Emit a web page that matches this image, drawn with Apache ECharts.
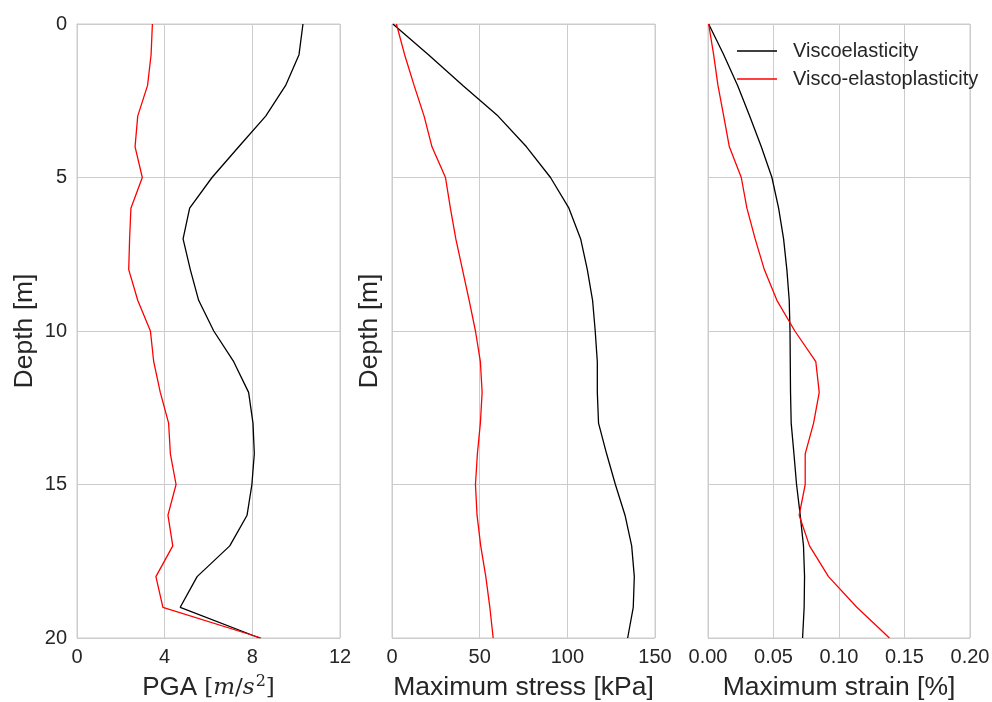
<!DOCTYPE html>
<html><head><meta charset="utf-8">
<script src="https://cdn.jsdelivr.net/npm/echarts@6/dist/echarts.min.js"></script>
<style>html,body{margin:0;padding:0;background:#fff}#c{width:992px;height:702px}</style>
</head><body><div id="c"></div>
<script>
const depths = [0,1,2,3,4,5,6,7,8,9,10,11,12,13,14,15,16,17,18,19,20];
const pgaVisco = [10.31,10.13,9.52,8.61,7.38,6.16,5.14,4.84,5.17,5.55,6.24,7.15,7.83,8.03,8.09,7.98,7.76,6.97,5.48,4.71,8.33];
const pgaPlast = [3.44,3.38,3.22,2.77,2.65,2.98,2.46,2.40,2.36,2.77,3.35,3.50,3.80,4.18,4.26,4.52,4.15,4.37,3.60,3.92,8.40];
const stressVisco = [0.5,20.8,40.4,60.5,76.7,90.4,100.9,107.6,111.4,114.4,115.9,117.1,117.1,117.8,122.4,127.4,132.9,136.7,138.2,137.6,134.4];
const stressPlast = [2.5,7.2,12.6,18.3,22.8,30.5,33.3,36.4,40.2,44.0,47.6,50.4,51.4,50.4,48.7,47.6,48.5,50.6,53.5,55.8,57.7];
const strainVisco = [0.0005,0.012,0.0226,0.0318,0.0407,0.0488,0.0539,0.0577,0.0602,0.062,0.0626,0.0628,0.063,0.0635,0.0656,0.0676,0.0704,0.0729,0.0737,0.0734,0.0722];
const strainPlast = [0.0005,0.0043,0.0076,0.012,0.0163,0.0254,0.0297,0.036,0.043,0.0526,0.0663,0.0823,0.0849,0.0806,0.0742,0.0742,0.0696,0.0775,0.092,0.1136,0.1385];
const pgaTicks = [0,4,8,12];
const stressTicks = [0,50,100,150];
const strainTicks = [0,0.05,0.10,0.15,0.20];
const depthTicks = [0,5,10,15,20];
const seriesNames = ['Viscoelasticity','Visco-elastoplasticity'];

const txt = '#262626', gridC = '#cccccc', FONT = 'Liberation Sans';
const pair = (xs) => xs.map((v,i)=>[v, depths[i]]);

function xAx(idx, ticks, name, fmt){
  return {
    type:'value', gridIndex:idx, min:ticks[0], max:ticks[ticks.length-1],
    interval:ticks[1]-ticks[0], position:'bottom',
    axisLine:{show:true, lineStyle:{color:gridC, width:1}},
    axisTick:{show:false},
    axisLabel:{color:txt, fontSize:20, fontFamily:FONT, margin:9, formatter:fmt},
    splitLine:{show:true, lineStyle:{color:gridC, width:1}},
    name:name, nameLocation:'middle', nameGap:36,
    nameTextStyle:{color:txt, fontSize:26.5, fontFamily:FONT}
  };
}
function yAx(idx, showLabels, showName){
  return {
    type:'value', gridIndex:idx, inverse:true, min:depthTicks[0], max:depthTicks[depthTicks.length-1],
    interval:depthTicks[1]-depthTicks[0],
    axisLine:{show:true, lineStyle:{color:gridC, width:1}},
    axisTick:{show:false},
    axisLabel:{show:showLabels, color:txt, fontSize:20, fontFamily:FONT, margin:10},
    splitLine:{show:true, lineStyle:{color:gridC, width:1}},
    name: showName ? 'Depth [m]' : '', nameLocation:'middle', nameGap: showLabels ? 39 : 9,
    nameTextStyle:{color:txt, fontSize:26.5, fontFamily:FONT}
  };
}
function ln(name, xi, data, color){
  return {type:'line', name:name, xAxisIndex:xi, yAxisIndex:xi, data:data, symbol:'none',
    lineStyle:{color:color, width:1.3}, itemStyle:{color:color}, animation:false};
}
const chart = echarts.init(document.getElementById('c'), null, {renderer:'canvas'});
const pgaAxis = xAx(0, pgaTicks, '{a|PGA }{b|[}{c|m}{b|/}{c|s}{d|2}{b|]}', v=>String(v));
pgaAxis.nameTextStyle = {color:txt, fontFamily:FONT, fontSize:26, rich:{
  a:{fontSize:26, fontFamily:FONT, color:txt},
  b:{fontSize:23, fontFamily:'DejaVu Serif', color:txt},
  c:{fontSize:23, fontFamily:'DejaVu Serif', fontStyle:'italic', color:txt},
  d:{fontSize:16, fontFamily:'DejaVu Serif', color:txt, verticalAlign:'top', padding:[0,0,12,1]}
}};
const gridBase = {top:24, height:614, show:true, borderColor:gridC, borderWidth:1, containLabel:false, outerBoundsMode:'none'};
chart.setOption({
  backgroundColor:'#fff',
  animation:false,
  grid:[
    Object.assign({left:77, width:263}, gridBase),
    Object.assign({left:392, width:263}, gridBase),
    Object.assign({left:708, width:262}, gridBase)
  ],
  legend:{
    data:seriesNames, left:732, top:36, orient:'vertical', itemGap:8,
    itemWidth:40, itemHeight:20, icon:'path://M0,9.4 L40,9.4 L40,10.7 L0,10.7 Z',
    textStyle:{color:txt, fontSize:20, fontFamily:FONT, padding:[0,0,0,11]}
  },
  xAxis:[
    pgaAxis,
    xAx(1, stressTicks, 'Maximum stress [kPa]', v=>String(v)),
    xAx(2, strainTicks, 'Maximum strain [%]', v=>v.toFixed(2))
  ],
  yAxis:[ yAx(0,true,true), yAx(1,false,true), yAx(2,false,false) ],
  series:[
    ln(seriesNames[0],0,pair(pgaVisco),'#000000'),
    ln(seriesNames[1],0,pair(pgaPlast),'#ff0000'),
    ln(seriesNames[0],1,pair(stressVisco),'#000000'),
    ln(seriesNames[1],1,pair(stressPlast),'#ff0000'),
    ln(seriesNames[0],2,pair(strainVisco),'#000000'),
    ln(seriesNames[1],2,pair(strainPlast),'#ff0000')
  ]
});
</script></body></html>
